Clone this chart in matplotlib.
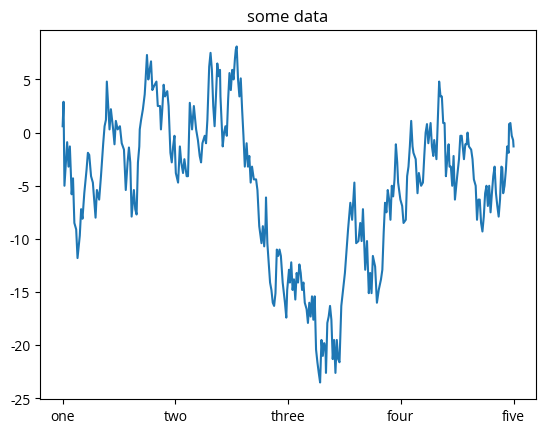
import matplotlib
matplotlib.use("Agg")
import matplotlib.pyplot as plt

plt.rcParams['font.family'] = ['Open Sans', 'DejaVu Sans']
plt.rcParams['axes.unicode_minus'] = False

# step index (0..1000) and random-walk value
steps = [0, 2, 4, 10, 13, 16, 20, 23, 26, 30, 33, 38, 41, 44, 48, 53, 56, 59, 63, 67,
         70, 73, 76, 81, 85, 90, 93, 96, 98, 102, 104, 107, 112, 115, 118, 122, 127, 131, 136, 140,
         144, 147, 150, 153, 158, 161, 164, 167, 170, 171, 174, 178, 182, 184, 187, 190, 193, 196, 199, 203,
         208, 211, 216, 218, 221, 224, 227, 232, 235, 239, 242, 245, 248, 251, 256, 260, 263, 267, 270, 275,
         278, 282, 287, 291, 296, 300, 304, 307, 310, 315, 318, 321, 325, 328, 331, 334, 337, 340, 343, 346,
         349, 350, 355, 358, 361, 364, 367, 370, 373, 376, 379, 382, 384, 386, 389, 392, 395, 398, 401, 404,
         408, 411, 414, 417, 420, 424, 429, 432, 436, 441, 444, 447, 450, 451, 454, 457, 460, 463, 466, 469,
         472, 475, 478, 481, 484, 488, 493, 496, 498, 502, 504, 507, 510, 513, 516, 519, 522, 525, 528, 531,
         534, 537, 541, 544, 547, 550, 553, 556, 559, 562, 565, 568, 571, 574, 577, 580, 583, 584, 587, 590,
         593, 596, 599, 602, 605, 608, 611, 614, 618, 626, 633, 638, 642, 647, 651, 656, 660, 663, 666, 671,
         675, 679, 682, 685, 688, 693, 697, 701, 706, 709, 712, 715, 718, 721, 724, 727, 730, 733, 736, 739,
         742, 744, 749, 753, 756, 761, 764, 767, 770, 773, 776, 778, 783, 787, 790, 795, 799, 802, 805, 808,
         811, 816, 819, 822, 824, 829, 832, 835, 838, 841, 844, 847, 850, 853, 856, 858, 861, 864, 867, 870,
         875, 879, 882, 885, 890, 893, 896, 898, 901, 906, 909, 912, 916, 919, 922, 925, 928, 931, 934, 937,
         940, 943, 946, 949, 952, 955, 958, 961, 964, 967, 970, 973, 975, 977, 980, 983, 986, 989, 990, 993,
         996, 999, 1000]
values = [0.6, 2.9, -5.0, -0.9, -3.2, -1.3, -5.8, -4.3, -8.5, -9.1, -11.8, -9.7, -7.2, -8.1, -5.7, -3.5, -1.9, -2.1, -4.1, -4.7,
          -6.3, -8.0, -5.4, -6.3, -4.1, -1.0, 0.6, 1.2, 4.8, 1.9, 0.3, 2.2, 0.3, -1.1, 1.1, 0.3, 0.6, -1.0, -1.6, -5.4,
          -2.8, -1.4, -2.8, -7.9, -5.4, -7.2, -7.7, -2.8, -1.3, 0.3, 1.2, 2.2, 3.6, 5.0, 7.3, 5.0, 5.9, 6.7, 4.0, 4.4,
          4.8, 2.5, 2.5, 0.3, 2.2, 4.5, 3.4, 3.9, 2.5, -1.9, -2.8, -1.3, -0.3, -3.8, -4.7, -1.3, -2.8, -3.8, -2.5, -4.1,
          -4.1, 2.8, 0.3, 2.5, 0.3, -0.7, -2.2, -2.8, -1.0, -0.3, -1.0, 1.2, 6.2, 7.5, 5.9, 2.5, 0.6, 3.4, 6.5, 5.3,
          5.9, 3.4, -1.3, 0.0, 0.6, -0.3, 3.1, 5.6, 4.0, 5.9, 5.0, 6.9, 7.8, 8.1, 5.0, 3.4, 5.1, 2.2, -0.3, -3.2,
          -1.0, -3.2, -2.2, -4.7, -3.2, -4.4, -4.4, -5.4, -8.8, -10.4, -8.8, -10.7, -8.5, -6.1, -10.4, -12.2, -14.1, -14.8, -16.0, -16.3,
          -15.1, -11.0, -11.6, -11.0, -11.6, -14.1, -16.0, -17.4, -14.8, -12.9, -14.1, -12.2, -14.8, -13.8, -15.7, -13.2, -14.1, -12.4, -13.2, -14.8,
          -14.1, -16.0, -16.6, -17.9, -16.0, -17.3, -15.4, -17.6, -15.4, -20.4, -21.6, -22.6, -23.5, -19.5, -21.0, -19.8, -20.4, -22.6, -17.9, -17.3,
          -16.3, -17.6, -21.3, -19.5, -22.6, -19.5, -21.3, -21.6, -16.3, -13.2, -9.1, -6.6, -8.2, -4.7, -10.4, -10.2, -8.5, -10.2, -7.2, -12.9,
          -10.2, -15.1, -13.2, -15.1, -11.6, -12.6, -16.0, -14.8, -13.8, -12.9, -9.4, -6.6, -7.5, -5.4, -6.3, -8.2, -5.0, -6.0, -4.4, -1.1,
          -2.8, -4.7, -6.3, -6.9, -8.5, -8.2, -4.1, -3.2, -1.3, 1.1, -1.3, -1.9, -2.5, -5.7, -3.8, -5.0, -4.7, -2.2, 0.0, 0.8,
          -1.0, 0.9, -1.3, -2.2, -0.7, -2.5, 1.2, 4.8, 3.4, 3.4, 0.9, 0.9, -4.1, -2.5, -1.1, -3.2, -3.2, -5.0, -2.2, -6.3,
          -4.1, -2.5, -0.3, -0.3, -2.5, -1.1, -1.1, 0.0, -1.3, -1.6, -2.5, -4.4, -5.0, -8.2, -6.3, -6.3, -8.5, -9.3, -7.9, -5.7,
          -5.0, -6.9, -5.0, -7.5, -5.7, -4.1, -3.2, -5.7, -6.9, -7.9, -6.3, -3.2, -3.3, -5.7, -5.0, -3.5, -1.3, -1.9, 0.8, 0.9,
          -0.3, -0.7, -1.3]

tick_positions = [0, 250, 500, 750, 1000]
tick_labels = ['one', 'two', 'three', 'four', 'five']

fig, ax = plt.subplots(figsize=(6.4, 4.8), dpi=100)
ax.plot(steps, values, color='#1f77b4', linewidth=1.5)
ax.set_xticks(tick_positions)
ax.set_xticklabels(tick_labels)
ax.set_yticks([5, 0, -5, -10, -15, -20, -25])
ax.set_title('some data')
fig.savefig('out.png', dpi=100, bbox_inches='tight')
